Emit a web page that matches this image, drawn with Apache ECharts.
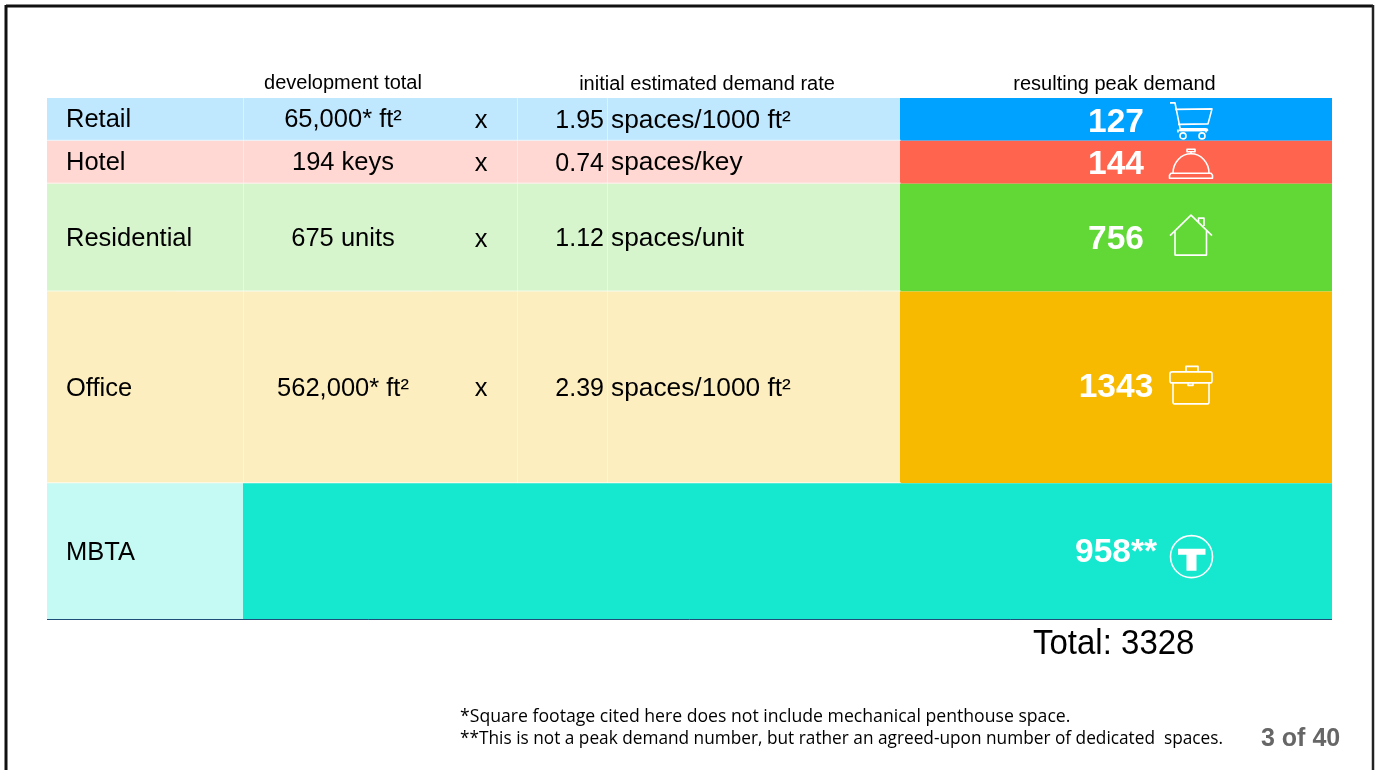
<!DOCTYPE html>
<html>
<head>
<meta charset="utf-8">
<title>Peak parking demand</title>
<style>
  html, body { margin: 0; padding: 0; background: #ffffff; }
  #chart { width: 1376px; height: 770px; }
</style>
<script src="https://cdn.jsdelivr.net/npm/echarts@6/dist/echarts.min.js"></script>
</head>
<body>
<div id="chart"></div>
<script>
// Land uses and the figures that lead to each one's parking demand
const rowNames = ['Retail', 'Hotel', 'Residential', 'Office', 'MBTA'];
const developmentTotals = ['65,000* ft²', '194 keys', '675 units', '562,000* ft²', ''];
const demandRates = ['1.95', '0.74', '1.12', '2.39', ''];
const rateUnits = ['spaces/1000 ft²', 'spaces/key', 'spaces/unit', 'spaces/1000 ft²', ''];
const peakDemand = [127, 144, 756, 1343, 958];
const demandMarks = ['', '', '', '', '**'];
const solidColors = ['#00A2FF', '#FF644E', '#61D836', '#F8BA00', '#16E7CF'];
const paleColors = ['#BFE8FF', '#FFD8D3', '#D7F5CD', '#FDEEBF', '#C5F9F3'];
const columnHeaders = ['development total', 'initial estimated demand rate', 'resulting peak demand'];
const footnotes = [
  '*Square footage cited here does not include mechanical penthouse space.',
  '**This is not a peak demand number, but rather an agreed-upon number of dedicated  spaces.'
];
const pageLabel = '3 of 40';

// Row height follows demand, with a floor so the small uses still hold a line of text
const MIN_ROW_SPAN = 300;
const rowSpans = peakDemand.map(v => Math.max(v, MIN_ROW_SPAN));
const spanTotal = rowSpans.reduce((a, b) => a + b, 0);
const demandTotal = peakDemand.reduce((a, b) => a + b, 0);
let running = 0;
const rowData = rowSpans.map((span, i) => {
  const row = [i, running, running + span];
  running += span;
  return row;
});

// Column edges along the table, measured from its left side
const COL = { dev: 196, x: 434, rate: 470, unit: 560, solid: 853, end: 1285 };
const POS = { name: 19, devText: 296, xText: 434, rateText: 557, unitText: 564, demandText: 1069, icon: 1144 };
// Small vertical settling of the demand figures within their rows
const DEMAND_DY = [3, 3, 2, 0, 1];
const BODY_DY = [1, 1, 1.5, 1.5, 1];

const FONT = '"Liberation Sans", Arial, sans-serif';
const WHITE_LINE = 'rgba(255,255,255,0.45)';

// Outline icons, drawn around the centre of each row
const iconPaths = [
  [
    'M-21 -17.5 L-16 -17.5 L-10.5 10 L11 10 M-16 -11 L21 -11.5 L17 3.5 L-13 4 M-13 9 L-13 12 M15 9 L15 12',
    'M-10.5 8.5 L14.5 8.5 Q16.5 8.5 16.5 10 L-12 10',
    'M-5 15.5 A3 3 0 1 1 -5 15.49 Z M14 15.5 A3 3 0 1 1 14 15.49 Z'
  ],
  [
    'M-4 -13 L4 -13 L4 -10.5 L-4 -10.5 Z M0 -10.5 L0 -8.5',
    'M-18 11 A18 19.5 0 0 1 18 11 Z M-20 11 L20 11 L21.5 13 L21.5 16 L-21.5 16 L-21.5 13 Z'
  ],
  [
    'M-21 -2 L0 -22.5 L21 -2 M-16 -7 L-16 17.5 L15.5 17.5 L15.5 -6.5 M7.5 -14.5 L7.5 -19.5 L13 -19.5 L13 -11.5'
  ],
  [
    'M-5 -15.5 L-5 -21 L7 -21 L7 -15.5',
    'M-19 -15.5 L19 -15.5 Q21 -15.5 21 -13.5 L21 -6.5 Q21 -4.5 19 -4.5 L-19 -4.5 Q-21 -4.5 -21 -6.5 L-21 -13.5 Q-21 -15.5 -19 -15.5 Z',
    'M-18 -4.5 L-18 14.5 Q-18 16.5 -16 16.5 L16 16.5 Q18 16.5 18 14.5 L18 -4.5 M-3 -4.5 L-3 -2 L2 -2 L2 -4.5'
  ],
  [
    'M21.5 5 A21 21 0 1 1 21.5 4.99 Z'
  ]
];
// The transit roundel has a solid letter in it
const iconFills = [null, null, null, null,
  'M-13 -3 L14.5 -3 L14.5 3 L5.5 3 L5.5 19 L-4.5 19 L-4.5 3 L-13 3 Z'];

function cellText(x, y, text, align, font, fill) {
  return { type: 'text', x, y, silent: true, style: { text, x: 0, y: 0, align, verticalAlign: 'middle', font, fill } };
}

function renderRow(params, api) {
  const i = api.value(0);
  const top = api.coord([0, api.value(1)]);
  const bottom = api.coord([0, api.value(2)]);
  const left = top[0];
  const xAt = v => left + v;
  const y0 = top[1], y1 = bottom[1], h = y1 - y0;
  const cy = (y0 + y1) / 2;
  const isTransit = demandRates[i] === '';
  const solidStart = isTransit ? COL.dev : COL.solid;
  const body = '25.5px ' + FONT;
  const children = [
    { type: 'rect', shape: { x: xAt(0), y: y0, width: solidStart, height: h }, style: { fill: paleColors[i] } },
    { type: 'rect', shape: { x: xAt(solidStart), y: y0, width: COL.end - solidStart, height: h }, style: { fill: solidColors[i] } }
  ];

  if (!isTransit) {
    [COL.dev, COL.rate, COL.unit].forEach(c => {
      children.push({ type: 'line', shape: { x1: xAt(c) + 0.5, y1: y0, x2: xAt(c) + 0.5, y2: y1 }, style: { stroke: WHITE_LINE, lineWidth: 1 } });
    });
    children.push({ type: 'line', shape: { x1: xAt(0), y1: y1 - 0.5, x2: xAt(COL.solid) + 1, y2: y1 - 0.5 }, style: { stroke: 'rgba(255,255,255,0.7)', lineWidth: 1 } });
  }

  const textY = cy + BODY_DY[i];
  children.push(cellText(xAt(POS.name), textY, rowNames[i], 'left', body, '#000000'));
  if (!isTransit) {
    children.push(cellText(xAt(POS.devText), textY, developmentTotals[i], 'center', body, '#000000'));
    children.push(cellText(xAt(POS.xText), cy + 2, 'x', 'center', body, '#000000'));
    children.push(cellText(xAt(POS.rateText), cy + 2, demandRates[i], 'right', '25px ' + FONT, '#000000'));
    children.push(cellText(xAt(POS.unitText), cy + 1, rateUnits[i], 'left', '26.3px ' + FONT, '#000000'));
  }
  children.push(cellText(xAt(POS.demandText), cy + DEMAND_DY[i], peakDemand[i] + demandMarks[i], 'center', 'bold 33.5px ' + FONT, '#ffffff'));

  const iconParts = iconPaths[i].map(pathData => ({
    type: 'path',
    shape: { pathData },
    style: { fill: 'none', stroke: '#ffffff', lineWidth: 1.6, lineJoin: 'round' }
  }));
  if (iconFills[i]) {
    iconParts.push({ type: 'path', shape: { pathData: iconFills[i] }, style: { fill: '#ffffff' } });
  }
  children.push({ type: 'group', x: xAt(POS.icon), y: cy + (i === 0 ? 1 : 0), children: iconParts });

  return { type: 'group', children };
}

const chart = echarts.init(document.getElementById('chart'), null, { renderer: 'canvas' });

chart.setOption({
  backgroundColor: '#ffffff',
  animation: false,
  grid: { left: 47, top: 98, width: 1285, height: 522, containLabel: false },
  xAxis: { type: 'value', min: 0, max: COL.end, show: false },
  yAxis: { type: 'value', min: 0, max: spanTotal, inverse: true, show: false },
  series: [{
    type: 'custom',
    coordinateSystem: 'cartesian2d',
    clip: false,
    silent: true,
    renderItem: renderRow,
    encode: { x: [], y: [1, 2] },
    data: rowData
  }],
  graphic: {
    elements: [
      // Slide frame, running off the foot of the page
      { type: 'line', shape: { x1: 6, y1: 6, x2: 1373, y2: 6 }, style: { stroke: '#111111', lineWidth: 3 } },
      { type: 'line', shape: { x1: 6, y1: 5, x2: 6, y2: 770 }, style: { stroke: '#111111', lineWidth: 3 } },
      { type: 'line', shape: { x1: 1373, y1: 5, x2: 1373, y2: 770 }, style: { stroke: '#222222', lineWidth: 2.5 } },
      // Rule under the table
      { type: 'line', z: 20, shape: { x1: 47, y1: 619.5, x2: 1332, y2: 619.5 }, style: { stroke: '#1F4E79', lineWidth: 1 } },
      { type: 'text', x: 343, y: 83, style: { text: columnHeaders[0], align: 'center', verticalAlign: 'middle', font: '20px ' + FONT, fill: '#000000' } },
      { type: 'text', x: 707, y: 84, style: { text: columnHeaders[1], align: 'center', verticalAlign: 'middle', font: '20px ' + FONT, fill: '#000000' } },
      { type: 'text', x: 1114.5, y: 84, style: { text: columnHeaders[2], align: 'center', verticalAlign: 'middle', font: '20px ' + FONT, fill: '#000000' } },
      { type: 'text', x: 1033, y: 644, scaleY: 1.08, style: { text: 'Total: ' + demandTotal, align: 'left', verticalAlign: 'middle', font: '33px ' + FONT, fill: '#000000' } },
      { type: 'text', x: 460, y: 717, style: { text: footnotes[0], align: 'left', verticalAlign: 'middle', font: '17.65px "Open Sans", sans-serif', fill: '#000000' } },
      { type: 'text', x: 460, y: 739, style: { text: footnotes[1], align: 'left', verticalAlign: 'middle', font: '17.25px "Open Sans", sans-serif', fill: '#000000' } },
      { type: 'text', x: 1261, y: 739, style: { text: pageLabel, align: 'left', verticalAlign: 'middle', font: 'bold 25px ' + FONT, fill: '#666666' } }
    ]
  }
});
</script>
</body>
</html>
